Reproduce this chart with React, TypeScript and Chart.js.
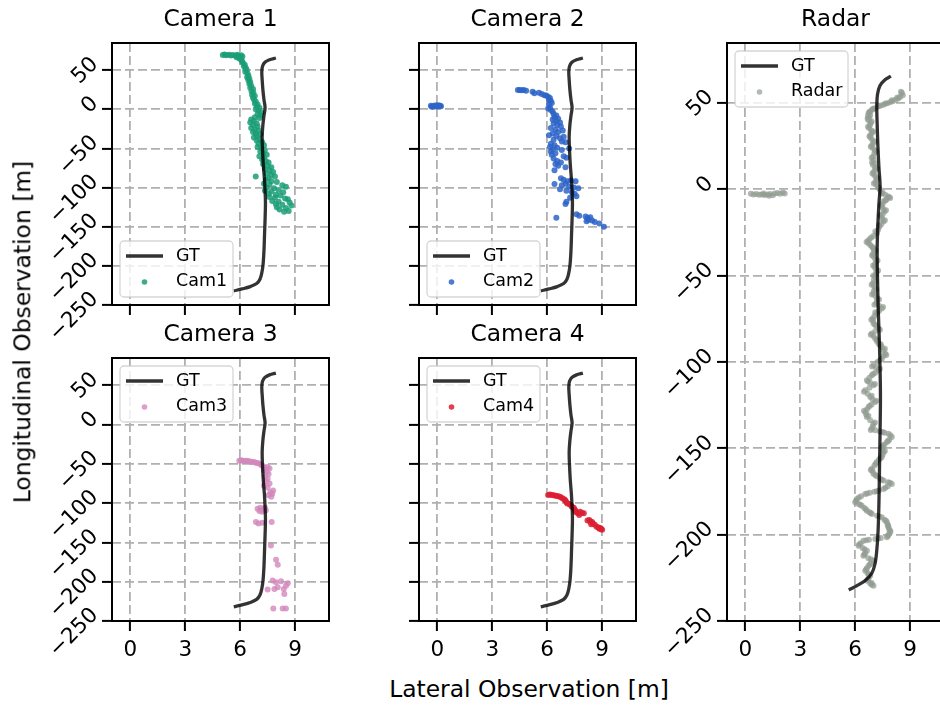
import React, { useEffect, useRef } from 'react';
import { Chart, registerables } from 'chart.js';

Chart.register(...registerables);

const FONT = '"DejaVu Sans", "Liberation Sans", sans-serif';

// ---------- data ----------
const xTickValues = [0, 3, 6, 9];
const yTickValues = [-250, -200, -150, -100, -50, 0, 50];
const xRange = [-1, 10.85];
const yRange = [-250, 84.7];

const gtTrack: [number, number][] = [
  [5.65, -232], [6.1, -229.5], [6.55, -226.5], [6.9, -222.5], [7.08, -217], [7.18, -209],
  [7.25, -198], [7.3, -180], [7.33, -160], [7.36, -140], [7.38, -120], [7.36, -105],
  [7.32, -88], [7.26, -70], [7.22, -52], [7.2, -35], [7.24, -20], [7.3, -8], [7.36, 2],
  [7.3, 12], [7.24, 25], [7.2, 38], [7.18, 48], [7.22, 55], [7.35, 60], [7.6, 63.2], [7.95, 65.5],
];

const cam1Points: [number, number][] = [
  [5.05, 69.5], [5.15, 70], [5.25, 69], [5.4, 69.6], [5.5, 68.8], [5.62, 69.3], [5.75, 68.5], [5.85, 69.8],
  [5.95, 68.2], [6.05, 69], [6.12, 67.5], [5.8, 66.5], [5.95, 65], [6.05, 63.5], [6.1, 61.5],
  [6.15, 59], [6.25, 57], [6.2, 55], [6.3, 53], [6.35, 50.5], [6.28, 48], [6.4, 46], [6.45, 43], [6.38, 41], [6.5, 39],
  [6.45, 37], [6.55, 35], [6.5, 32.5], [6.6, 30], [6.55, 27.5], [6.7, 26], [6.62, 23], [6.72, 21], [6.65, 18.5], [6.8, 17], [6.7, 15],
  [6.75, 12.5], [6.85, 10], [6.8, 7.5], [6.95, 6], [6.9, 3.5], [7.05, 2], [6.85, 0], [7.0, -2], [7.15, -4], [6.95, -6], [7.1, -8], [6.8, -10], [7.05, -11],
  [6.6, -13], [6.75, -15], [6.55, -17], [6.9, -18], [6.7, -20], [6.95, -22], [6.6, -24], [6.8, -26], [7.0, -27], [6.7, -29], [6.85, -31], [7.1, -32], [6.9, -34], [6.75, -36],
  [7.05, -38], [6.9, -40], [7.2, -42], [7.0, -44], [7.3, -46], [6.95, -48], [7.15, -50], [7.35, -52], [7.1, -54], [7.25, -56], [7.45, -58], [7.05, -60], [7.3, -62],
  [7.2, -64], [7.4, -66], [7.55, -68], [7.25, -70], [7.5, -72], [7.7, -74], [7.35, -76], [7.6, -78], [7.8, -80], [7.45, -82], [7.7, -84], [7.9, -86], [6.85, -86], [7.55, -88],
  [7.4, -90], [7.7, -92], [8.0, -93], [7.3, -95], [7.6, -96], [8.3, -97], [8.5, -99], [7.45, -100], [7.85, -101], [8.1, -103], [7.35, -104], [7.7, -105], [8.35, -106], [7.55, -108], [7.95, -109], [8.2, -110],
  [7.6, -112], [7.9, -113], [8.45, -114], [8.6, -115], [7.75, -117], [8.1, -118], [8.7, -119], [7.95, -121], [8.3, -122], [8.8, -123], [8.0, -125], [8.5, -126], [8.15, -128], [8.65, -130], [8.4, -131],
];

const cam2Points: [number, number][] = [
  [-0.35, 4.5], [-0.25, 3.5], [-0.15, 5], [-0.05, 4], [0.05, 3.5], [0.15, 4.5], [0.2, 3.8], [-0.3, 3.2], [0, 5.2], [0.1, 4.8],
  [4.4, 24.8], [4.5, 24.5], [4.6, 24.2], [4.72, 24.6], [4.85, 23.8], [5.2, 22.5], [5.3, 20.5], [5.55, 21], [5.7, 19.5], [5.85, 18],
  [5.95, 17.5], [6.05, 16], [6.15, 14.5], [6.1, 12], [6.2, 10.5], [6.25, 8], [6.1, 6], [6.15, 3], [6.05, 1], [6.2, -1], [6.3, -3],
  [6.35, -6], [6.5, -8], [6.4, -10], [6.6, -12], [6.3, -13], [6.5, -15], [6.7, -17], [6.35, -18], [6.55, -20], [6.75, -22],
  [6.2, -24], [6.45, -26], [6.85, -27], [6.6, -29], [6.3, -31], [6.1, -33], [6.5, -34], [6.9, -35], [6.7, -37], [6.35, -39], [6.8, -41], [7.0, -42],
  [6.2, -44], [6.4, -46], [6.15, -48], [6.55, -49], [6.3, -51], [7.2, -50], [6.8, -52], [6.2, -54], [6.45, -56], [6.25, -58], [6.9, -60],
  [7.05, -62], [6.35, -63], [6.55, -66], [6.75, -68], [6.4, -78], [6.45, -70], [6.6, -72], [7.0, -74],
  [6.75, -88], [6.9, -90], [7.1, -92], [7.3, -91], [7.55, -92], [7.0, -95], [6.4, -95.5], [6.8, -97], [7.2, -99], [7.45, -100],
  [7.7, -101], [6.7, -102], [7.05, -104], [7.35, -106], [7.5, -108], [7.6, -111], [7.25, -113], [7.05, -118], [7.0, -121],
  [6.5, -138.5], [7.6, -134], [7.75, -136], [8.1, -137], [8.2, -139], [8.35, -138], [8.25, -141], [8.45, -142], [8.15, -143],
  [8.6, -144], [8.85, -146], [9.1, -150],
];

const cam3Points: [number, number][] = [
  [5.95, -46], [6.05, -45.5], [6.15, -46], [6.25, -46.5], [6.35, -46], [6.45, -46.8], [6.55, -47], [6.65, -47.5], [6.75, -47.8],
  [6.85, -48.5], [6.95, -49], [7.05, -50], [7.15, -51.5], [7.25, -53], [7.35, -55], [7.5, -54], [7.6, -56], [7.3, -58], [7.45, -60],
  [7.55, -63], [7.35, -66], [7.5, -69], [7.4, -72], [7.6, -75], [7.3, -78], [7.5, -80], [7.8, -84], [7.65, -86], [7.75, -88],
  [7.55, -90], [7.7, -92], [6.95, -107], [7.1, -106], [7.25, -108], [7.05, -110], [7.2, -111], [7.35, -106], [7.4, -109],
  [7.72, -124], [6.86, -124], [7.0, -126], [7.2, -125], [7.68, -153.8], [7.96, -172], [8.05, -178.5],
  [7.77, -198.5], [7.96, -200.6], [8.23, -199.4], [8.5, -205], [8.05, -207], [7.87, -209.2], [8.38, -209.2], [8.6, -202],
  [8.41, -215.6], [7.5, -210], [7.81, -234], [8.32, -234], [8.5, -234],
];

const cam4Points: [number, number][] = [
  [6.05, -89.5], [6.15, -89], [6.25, -89.5], [6.35, -90], [6.45, -90.5], [6.55, -91], [6.65, -91.5], [6.75, -92.5],
  [6.85, -94], [6.95, -95.5], [7.0, -97], [7.05, -99], [7.1, -100.5], [7.2, -101], [7.3, -103], [7.35, -104.5],
  [7.45, -106], [7.5, -108], [7.55, -110], [7.6, -112], [7.7, -113], [7.8, -111], [7.9, -112.5], [8.0, -113], [7.75, -115],
  [8.2, -122], [8.3, -121.5], [8.35, -123.5], [8.45, -124], [8.5, -126], [8.4, -127], [8.6, -127.5],
  [8.7, -130], [8.8, -131], [8.85, -132.5], [8.95, -133], [9.0, -134], [8.9, -131.5],
];

const radarPoints: [number, number][] = [
  [0.3, -2.6], [0.45, -3], [0.6, -2.8], [0.75, -3.2], [0.9, -3], [1.05, -3.3], [1.2, -3.1], [1.35, -2.7], [1.5, -3.4],
  [1.6, -2.5], [1.75, -2.2], [1.9, -2.6], [2.05, -1.9], [2.15, -2.4], [1.3, -3.8], [1.0, -2.5],
  [8.55, 55.8], [8.6, 54.5], [8.45, 53.5], [8.35, 52.5], [8.2, 51.8], [8.05, 51], [7.9, 50.4], [7.75, 49.8], [7.55, 49],
  [7.4, 48.5], [7.2, 47.7], [7.05, 46.8], [6.92, 46], [6.8, 45], [6.73, 44],
  [6.7, 42.5], [6.78, 41.3], [6.72, 40], [6.85, 38.4], [6.8, 37], [6.76, 35.5], [6.88, 34], [6.92, 32.6], [6.82, 31.2],
  [6.86, 29.7], [6.95, 28.2], [7.0, 26.8], [6.9, 25.4], [6.96, 23.9], [7.08, 22.4], [7.05, 21], [6.98, 19], [7.0, 17.1],
  [6.92, 15.6], [6.96, 14.2], [7.1, 12.8], [7.08, 11.3], [7.0, 9.9], [7.04, 8.4], [7.12, 7], [7.18, 5.5], [7.1, 4],
  [7.15, 2.6], [7.25, 1.2], [7.36, -0.3],
  [7.5, -1.8], [7.64, -3.2], [7.8, -4.2], [7.91, -5.1], [7.7, -6], [7.55, -7], [7.5, -8.5], [7.45, -10], [7.55, -11.5],
  [7.6, -12.9], [7.5, -14.4], [7.4, -15.8], [7.48, -17.2], [7.55, -18.7], [7.42, -20.2], [7.33, -21.6], [7.25, -23.5],
  [7.18, -25.4], [7.0, -27], [6.78, -28.9], [6.7, -30], [6.73, -31.2], [6.82, -32.2], [6.91, -33.2],
  [7.0, -34.6], [7.05, -36.1], [6.98, -37.5], [7.0, -39], [7.1, -40.5], [7.15, -41.9], [7.08, -43.4], [7.05, -44.8],
  [7.12, -46.2], [7.18, -47.7], [7.12, -49.2], [7.09, -50.6], [7.02, -52.5], [6.96, -54.5], [7.04, -56], [7.09, -57.4],
  [7.02, -58.8], [7.0, -60.3], [7.1, -61.8], [7.22, -63.2], [7.18, -64.6], [7.15, -66.1], [7.3, -67.5], [7.45, -69],
  [7.3, -70.5], [7.18, -71.9], [7.05, -73.4], [6.96, -74.8], [6.98, -76.2], [7.0, -77.7], [7.15, -79.1], [7.27, -80.6],
  [7.1, -82], [6.91, -83.5], [7.0, -85], [7.09, -86.4], [7.18, -87.8], [7.27, -89.3],
  [7.35, -90.2], [7.45, -91.3], [7.55, -93.2], [7.64, -95.2], [7.55, -96.6], [7.45, -98.1], [7.22, -100], [7.0, -101.9],
  [7.15, -103.3], [7.27, -104.8], [7.1, -106.2], [6.91, -107.7], [6.78, -109.1], [6.64, -110.6], [6.82, -112], [7.0, -113.5],
  [6.78, -115], [6.55, -116.4], [6.68, -118.4], [6.82, -120.3], [6.95, -121.8], [7.09, -123.2], [6.9, -124.6], [6.73, -126.1],
  [6.64, -127.5], [6.55, -129], [6.6, -130.4], [6.64, -131.9], [6.82, -133.8], [7.0, -135.8], [6.96, -137.2], [6.91, -138.7],
  [7.1, -139.5], [7.35, -140.3], [7.6, -141], [7.82, -141.6], [8.0, -143.5], [7.86, -145], [7.73, -146.4], [7.6, -147.8],
  [7.45, -149.3], [7.5, -150.7], [7.55, -152.2], [7.5, -153.6], [7.45, -155.1], [7.3, -156.5], [7.18, -158], [7.05, -160],
  [6.91, -161.9], [6.95, -163.3], [7.0, -164.8], [7.18, -166.2], [7.36, -167.7], [7.55, -168.6], [7.8, -169.6], [8.0, -170.6],
  [7.78, -172], [7.55, -173.5], [7.3, -174.5], [7.05, -175.2], [6.8, -175.8], [6.55, -176.4], [6.32, -177.8], [6.09, -179.3],
  [6.0, -181.2], [6.18, -182.2], [6.36, -183.2], [6.5, -184.6], [6.64, -186.1], [6.78, -187], [6.91, -188], [7.2, -189],
  [7.45, -189.9], [7.6, -191.3], [7.73, -192.8], [7.78, -194.2], [7.82, -195.7], [7.86, -197.2], [7.91, -198.6], [7.82, -200],
  [7.73, -201.5], [7.4, -202], [7.1, -202.5], [6.75, -203], [6.45, -203.5], [6.3, -205], [6.18, -206.4], [6.4, -207.8],
  [6.64, -209.3], [6.55, -210.8], [6.45, -212.2], [6.72, -213.6], [7.0, -215.1], [6.86, -216.6], [6.73, -218], [6.64, -219.4],
  [6.55, -220.9], [6.68, -222.4], [6.82, -223.8], [6.73, -225.2], [6.64, -226.7], [6.82, -228.2], [7.0, -229.6], [6.9, -228],
  [8.5, 56.4], [8.3, 53.2], [8.0, 51.6], [7.65, 49.6], [7.3, 48.2], [6.98, 46.6], [6.78, 44.6],
  [6.82, 43], [6.68, 41], [6.9, 39.2], [6.7, 36.2], [6.98, 33.4], [6.78, 30.5], [7.08, 27.6], [6.85, 24.6], [7.15, 21.8],
  [6.9, 18.2], [7.06, 15], [7.2, 12], [6.94, 9.2], [7.22, 6.3], [7.02, 3.3], [7.3, 0.6],
  [7.45, -2.5], [7.85, -4.6], [7.65, -6.5], [7.38, -9.2], [7.68, -12.2], [7.35, -15], [7.62, -18], [7.3, -20.9], [7.1, -24.4],
  [6.88, -28], [6.62, -30.6], [6.98, -33.9], [7.12, -35.4], [6.92, -38.2], [7.22, -41.2], [6.98, -44.1], [7.25, -47],
  [7.0, -49.9], [7.12, -53.4], [6.9, -55.3], [7.15, -58.1], [6.92, -61], [7.3, -63.9], [7.05, -66.8], [7.52, -68.2],
  [7.1, -71.2], [6.88, -75.5], [7.08, -78.4], [7.35, -81.3], [6.85, -84.2], [7.2, -87.1],
  [7.4, -89.8], [7.62, -92.3], [7.7, -96], [7.35, -99], [6.92, -102.6], [7.35, -104], [6.98, -107], [6.7, -111.3],
  [7.08, -112.8], [6.48, -117.2], [6.9, -119.6], [7.15, -122.5], [6.8, -125.4], [6.48, -128.3], [6.72, -131.2], [7.08, -135],
  [6.85, -139.4], [7.5, -140.6], [7.92, -142.5], [7.8, -145.7], [7.52, -148.5], [7.62, -151.5], [7.38, -155.8], [7.12, -159],
  [6.85, -162.6], [7.1, -165.5], [7.45, -168.2], [7.9, -170], [7.65, -172.8], [7.18, -174.8], [6.65, -176.1], [6.2, -178.5],
  [6.05, -180.3], [6.28, -182.7], [6.58, -185.3], [6.85, -187.5], [7.32, -189.5], [7.68, -192], [7.8, -195], [7.92, -197.9],
  [7.78, -200.8], [7.25, -202.2], [6.6, -203.2], [6.22, -205.7], [6.52, -208.5], [6.5, -211.5], [6.86, -214.3], [6.8, -217.3],
  [6.6, -220.2], [6.75, -223.1], [6.7, -226], [6.9, -229],
];

// ---------- layout & style ----------
const ML = 100, MT = 40, MR = 10, MB = 50;
const GT_COLOR = 'rgba(0,0,0,0.8)';
const TICK_FONT = 21.5;

type Panel = {
  key: string; title: string; label: string; color: string; points: [number, number][];
  box: { l: number; t: number; r: number; b: number };
  showX: boolean; showY: boolean; legendAt: 'tl' | 'bl';
};

const panels: Panel[] = [
  { key: 'c1', title: 'Camera 1', label: 'Cam1', color: 'rgba(27,158,119,0.85)', points: cam1Points,
    box: { l: 112, t: 43, r: 329, b: 305 }, showX: false, showY: true, legendAt: 'bl' },
  { key: 'c2', title: 'Camera 2', label: 'Cam2', color: 'rgba(45,100,200,0.85)', points: cam2Points,
    box: { l: 419, t: 43, r: 636, b: 305 }, showX: false, showY: false, legendAt: 'bl' },
  { key: 'c3', title: 'Camera 3', label: 'Cam3', color: 'rgba(210,135,188,0.8)', points: cam3Points,
    box: { l: 112, t: 358, r: 329, b: 621 }, showX: true, showY: true, legendAt: 'tl' },
  { key: 'c4', title: 'Camera 4', label: 'Cam4', color: 'rgba(220,30,50,0.85)', points: cam4Points,
    box: { l: 419, t: 358, r: 636, b: 621 }, showX: true, showY: false, legendAt: 'tl' },
  { key: 'rd', title: 'Radar', label: 'Radar', color: 'rgba(145,155,145,0.7)', points: radarPoints,
    box: { l: 727, t: 43, r: 944, b: 621 }, showX: true, showY: true, legendAt: 'tl' },
];

const fmtTick = (v: number) => (v < 0 ? '\u2212' + Math.abs(v) : String(v));

const decorPlugin = {
  id: 'panelDecor',
  afterDatasetsDraw(chart: any, _args: any, opts: any) {
    const { ctx, chartArea } = chart;
    const { left, top, right, bottom } = chartArea;
    ctx.save();
    ctx.strokeStyle = '#000';
    ctx.lineWidth = 2;
    ctx.strokeRect(left, top, right - left, bottom - top);

    const bw = 113, bh = 56;
    const bx = left + 8;
    const by = opts.legendAt === 'tl' ? top + 8 : bottom - 8 - bh;
    ctx.beginPath();
    ctx.roundRect(bx, by, bw, bh, 4);
    ctx.fillStyle = 'rgba(255,255,255,0.8)';
    ctx.fill();
    ctx.strokeStyle = 'rgba(204,204,204,0.8)';
    ctx.lineWidth = 1.3;
    ctx.stroke();

    const ds = chart.data.datasets;
    ctx.beginPath();
    ctx.moveTo(bx + 6, by + 15);
    ctx.lineTo(bx + 43, by + 15);
    ctx.strokeStyle = ds[0].borderColor;
    ctx.lineWidth = 3.6;
    ctx.stroke();
    ctx.beginPath();
    ctx.arc(bx + 24.5, by + 41, 2.8, 0, Math.PI * 2);
    ctx.fillStyle = ds[1].backgroundColor;
    ctx.fill();

    ctx.fillStyle = '#000';
    ctx.font = `17.5px ${FONT}`;
    ctx.textBaseline = 'middle';
    ctx.textAlign = 'left';
    ctx.fillText(ds[0].label, bx + 56, by + 15);
    ctx.fillText(ds[1].label, bx + 56, by + 40);
    ctx.restore();
  },
};

function buildConfig(p: Panel): any {
  const gridCommon = {
    color: '#b0b0b0',
    lineWidth: 1.8,
    drawTicks: true,
    tickLength: 10,
    tickColor: '#000',
    tickWidth: 2,
    tickBorderDash: [],
  };
  return {
    type: 'scatter',
    data: {
      datasets: [
        {
          label: 'GT',
          data: gtTrack.map(([x, y]) => ({ x, y })),
          showLine: true,
          borderColor: GT_COLOR,
          backgroundColor: GT_COLOR,
          borderWidth: 3.3,
          pointRadius: 0,
          pointHoverRadius: 0,
          tension: 0.35,
          fill: false,
        },
        {
          label: p.label,
          data: p.points.map(([x, y]) => ({ x, y })),
          backgroundColor: p.color,
          borderColor: 'rgba(0,0,0,0)',
          borderWidth: 0,
          pointBorderWidth: 0,
          pointRadius: 3,
          pointHoverRadius: 3,
        },
      ],
    },
    options: {
      responsive: false,
      animation: false,
      devicePixelRatio: 1,
      events: [],
      layout: { padding: { left: 0, right: MR, top: 0, bottom: 0 } },
      plugins: {
        legend: { display: false },
        tooltip: { enabled: false },
        title: {
          display: true,
          text: p.title,
          fullSize: false,
          color: '#000',
          font: { family: FONT, size: 23.4, weight: 'normal', lineHeight: 1.2 },
          padding: { top: 3, bottom: 40 - 3 - 23.4 * 1.2 },
        },
        panelDecor: { legendAt: p.legendAt },
      },
      scales: {
        x: {
          type: 'linear',
          position: 'bottom',
          min: xRange[0],
          max: xRange[1],
          afterBuildTicks: (s: any) => { s.ticks = xTickValues.map((v) => ({ value: v })); },
          afterFit: (s: any) => { s.height = MB; },
          grid: gridCommon,
          border: { display: false, dash: [9, 4] },
          ticks: {
            display: p.showX,
            autoSkip: false,
            minRotation: 0,
            maxRotation: 0,
            padding: 7,
            color: '#000',
            font: { family: FONT, size: TICK_FONT },
            callback: (v: number) => fmtTick(v),
          },
        },
        y: {
          type: 'linear',
          position: 'left',
          min: yRange[0],
          max: yRange[1],
          afterBuildTicks: (s: any) => { s.ticks = yTickValues.map((v) => ({ value: v })); },
          afterFit: (s: any) => { s.width = ML; },
          grid: gridCommon,
          border: { display: false, dash: [9, 4] },
          ticks: {
            display: p.showY,
            autoSkip: false,
            minRotation: 45,
            maxRotation: 45,
            padding: 7,
            labelOffset: -9,
            color: '#000',
            font: { family: FONT, size: TICK_FONT },
            callback: (v: number) => fmtTick(v),
          },
        },
      },
    },
    plugins: [decorPlugin],
  };
}

function PanelChart({ p }: { p: Panel }) {
  const ref = useRef<HTMLCanvasElement>(null);
  useEffect(() => {
    const chart = new Chart(ref.current as HTMLCanvasElement, buildConfig(p));
    return () => chart.destroy();
  }, [p]);
  const w = p.box.r - p.box.l + ML + MR;
  const h = p.box.b - p.box.t + MT + MB;
  return (
    <canvas
      ref={ref}
      width={w}
      height={h}
      style={{ position: 'absolute', left: p.box.l - ML, top: p.box.t - MT, width: w, height: h }}
    />
  );
}

export default function App() {
  return (
    <div style={{ position: 'fixed', left: 0, top: 0, width: 940, height: 707, overflow: 'hidden', background: '#fff' }}>
      {panels.map((p) => (
        <PanelChart key={p.key} p={p} />
      ))}
      <div
        style={{
          position: 'absolute', left: 529, top: 690, transform: 'translate(-50%, -50%)',
          fontFamily: FONT, fontSize: 23.4, lineHeight: 1, whiteSpace: 'nowrap', color: '#000',
        }}
      >
        Lateral Observation [m]
      </div>
      <div
        style={{
          position: 'absolute', left: 23, top: 332, transform: 'translate(-50%, -50%) rotate(-90deg)',
          fontFamily: FONT, fontSize: 23.4, lineHeight: 1, whiteSpace: 'nowrap', color: '#000',
        }}
      >
        Longitudinal Observation [m]
      </div>
    </div>
  );
}
